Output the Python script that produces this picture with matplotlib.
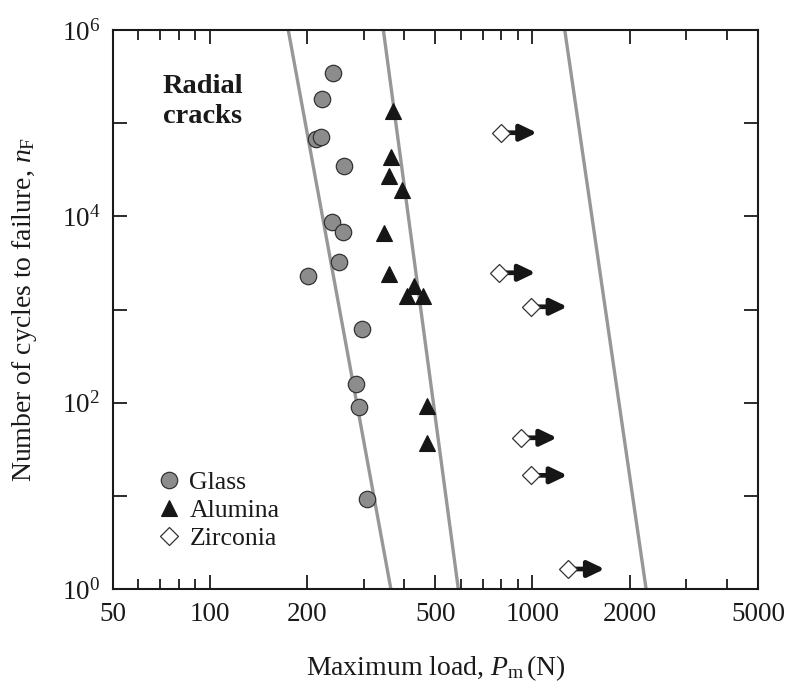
import matplotlib
matplotlib.use("Agg")
import matplotlib.pyplot as plt
from matplotlib.ticker import FixedLocator, NullFormatter, FixedFormatter

plt.rcParams['font.family'] = ['Liberation Serif', 'DejaVu Serif']
plt.rcParams['mathtext.fontset'] = 'custom'
plt.rcParams['mathtext.rm'] = 'Liberation Serif'
plt.rcParams['mathtext.it'] = 'Liberation Serif:italic'
plt.rcParams['mathtext.bf'] = 'Liberation Serif:bold'

# ---- data (load in N, cycles to failure) ----
glass_load = [241, 222, 214, 221, 261, 239, 259, 252, 202, 297, 283, 290, 306]
glass_cycles = [3.5e5, 1.8e5, 6.7e4, 7.1e4, 3.46e4, 8.6e3, 6.8e3, 3.2e3, 2.27e3, 620, 157, 90, 9.2]

alumina_load = [369, 364, 360, 394, 347, 360, 430, 408, 457, 470, 470]
alumina_cycles = [1.36e5, 4.35e4, 2.72e4, 1.91e4, 6.55e3, 2.38e3, 1.8e3, 1.4e3, 1.4e3, 92, 36.6]

zirconia_load = [797, 789, 990, 920, 990, 1292]
zirconia_cycles = [7.9e4, 2.48e3, 1.07e3, 42, 16.6, 1.64]

# fitted lines: load at n=1e6 and at n=1
line_cycles = [1e6, 1.0]
line_loads = [[175, 364], [345, 589], [1259, 2250]]

x_major = [50, 100, 200, 500, 1000, 2000, 5000]
x_major_labels = ['50', '100', '200', '500', '1000', '2000', '5000']
x_minor = [60, 70, 80, 90, 300, 400, 600, 700, 800, 900, 3000, 4000]
y_major = [1, 10, 100, 1e3, 1e4, 1e5, 1e6]
y_major_labels = ['$10^0$', '', '$10^2$', '', '$10^4$', '', '$10^6$']

fig = plt.figure(figsize=(8, 6.95), dpi=100)
ax = fig.add_axes([0.1409, 0.1525, 0.8066, 0.8043])
ax.set_xscale('log')
ax.set_yscale('log')
ax.set_xlim(50, 5000)
ax.set_ylim(1, 1e6)

for loads in line_loads:
    ax.plot(loads, line_cycles, color='#979797', lw=2.4, zorder=2, solid_capstyle='butt')

ax.plot(glass_load, glass_cycles, 'o', ms=11.8, mfc='#8c8c8c', mec='#333333', mew=0.9,
        ls='none', zorder=4, label='Glass')
ax.plot(alumina_load, alumina_cycles, '^', ms=11.8, mfc='#161616', mec='#161616', mew=0.8,
        ls='none', zorder=4, label='Alumina')
for p, n in zip(zirconia_load, zirconia_cycles):
    ax.annotate('', xy=(p * 1.295, n), xytext=(p, n),
                arrowprops=dict(arrowstyle='-|>,head_length=0.5,head_width=0.24',
                                lw=3.4, color='#161616', shrinkA=0, shrinkB=0,
                                mutation_scale=20),
                zorder=3)
ax.plot(zirconia_load, zirconia_cycles, 'D', ms=9.4, mfc='white', mec='#333333', mew=0.9,
        ls='none', zorder=5, label='Zirconia')

ax.text(0.0775, 0.922, 'Radial\ncracks', transform=ax.transAxes, fontsize=20.5,
        fontweight='bold', va='top', ha='left', linespacing=1.27, color='#1a1a1a')

leg = ax.legend(loc='lower left', bbox_to_anchor=(0.055, 0.06), frameon=False,
                fontsize=18.5, handletextpad=0.2, labelspacing=0.2, borderpad=0.2,
                handlelength=1.2, borderaxespad=0)
for t in leg.get_texts():
    t.set_color('#1a1a1a')

ax.xaxis.set_major_locator(FixedLocator(x_major))
ax.xaxis.set_major_formatter(FixedFormatter(x_major_labels))
ax.xaxis.set_minor_locator(FixedLocator(x_minor))
ax.xaxis.set_minor_formatter(NullFormatter())
ax.yaxis.set_major_locator(FixedLocator(y_major))
ax.yaxis.set_major_formatter(FixedFormatter(y_major_labels))
ax.yaxis.set_minor_locator(FixedLocator([]))

ax.tick_params(which='both', direction='in', top=True, right=True, colors='#1a1a1a',
               labelsize=19.5, width=1.3)
ax.tick_params(which='major', length=10, pad=9)
ax.tick_params(which='minor', length=7.5)
for s in ax.spines.values():
    s.set_linewidth(1.5)
    s.set_color('#1a1a1a')

ax.set_xlabel('Maximum load, $P_\\mathrm{m}\\,$(N)', fontsize=20, labelpad=19, color='#1a1a1a')
ax.set_ylabel('Number of cycles to failure, $n_\\mathrm{F}$', fontsize=20, labelpad=16,
              color='#1a1a1a')

fig.savefig('out.png', dpi=100)
